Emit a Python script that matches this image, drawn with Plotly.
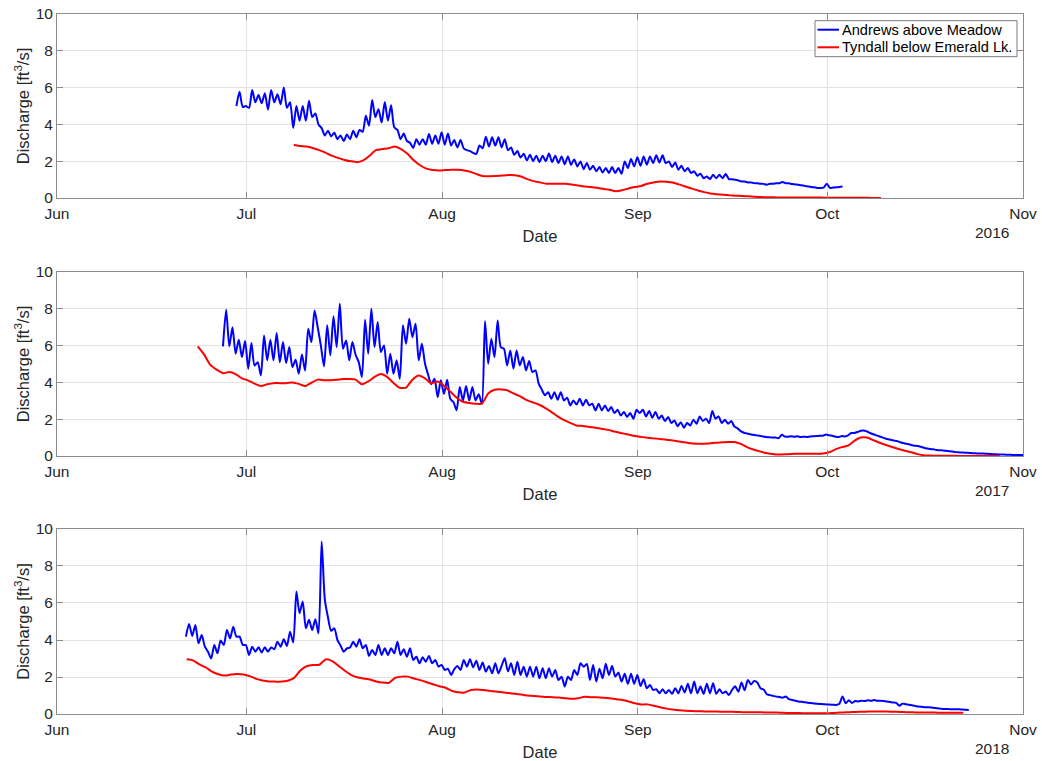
import pandas as pd
import plotly.graph_objects as go

# ---------------------------------------------------------------------------
# Discharge records (ft^3/s).  Andrews gauge: 12-hourly samples, Tyndall: daily.
# ---------------------------------------------------------------------------
YEARS = [2016, 2017, 2018]
MONTH_LABELS = ["Jun", "Jul", "Aug", "Sep", "Oct", "Nov"]
SERIES_NAMES = ["Andrews above Meadow", "Tyndall below Emerald Lk."]

andrews_2016_start = "2016-06-29 10:00"
andrews_2016 = [
    5.0, 5.78, 4.95, 5.0, 4.9, 5.87, 5.2, 5.6, 5.15, 5.7, 4.8, 5.87, 5.2, 5.64, 5.1, 6.0,
    4.9, 5.2, 3.8, 5.0, 4.2, 5.0, 4.2, 5.28, 4.4, 4.6, 4.0, 3.8, 3.4, 3.66, 3.35, 3.55,
    3.2, 3.4, 3.1, 3.45, 3.2, 3.66, 3.3, 3.7, 3.6, 4.47, 3.93, 5.33, 4.4, 4.83, 4.1, 5.22,
    4.2, 5.04, 3.84, 3.7, 3.2, 3.5, 3.1, 3.0, 2.72, 3.2, 2.9, 3.2, 2.9, 3.48, 2.95, 3.4,
    2.95, 3.57, 2.9, 3.5, 2.85, 3.15, 2.75, 3.15, 2.7, 2.6, 2.55, 2.45, 2.4, 2.85, 2.7, 3.33,
    2.8, 3.3, 2.85, 3.3, 2.75, 3.2, 2.6, 2.75, 2.35, 2.55, 2.2, 2.4, 2.05, 2.35, 2.0, 2.3,
    1.96, 2.3, 2.0, 2.42, 1.95, 2.3, 1.9, 2.26, 1.84, 2.26, 1.8, 2.1, 1.72, 1.99, 1.57, 1.9,
    1.54, 1.75, 1.45, 1.68, 1.39, 1.63, 1.36, 1.68, 1.36, 1.63, 1.32, 1.99, 1.63, 2.12, 1.72, 2.22,
    1.75, 2.26, 1.81, 2.26, 1.9, 2.32, 1.93, 2.32, 1.9, 1.99, 1.68, 1.93, 1.54, 1.75, 1.45, 1.63,
    1.36, 1.45, 1.21, 1.32, 1.08, 1.17, 1.03, 1.26, 1.08, 1.26, 1.08, 1.3, 1.03, 1.02, 0.99, 0.95,
    0.9, 0.9, 0.85, 0.85, 0.81, 0.8, 0.78, 0.77, 0.72, 0.78, 0.78, 0.8, 0.8, 0.87, 0.8, 0.8,
    0.76, 0.74, 0.72, 0.7, 0.66, 0.63, 0.6, 0.58, 0.55, 0.54, 0.56, 0.78, 0.55, 0.57, 0.58, 0.6,
    0.63,
]

tyndall_2016_start = "2016-07-08 12:00"
tyndall_2016 = [
    2.88, 2.83, 2.8, 2.72, 2.6, 2.47, 2.3, 2.18, 2.07, 2.0, 1.95, 2.05, 2.3, 2.6, 2.66, 2.7,
    2.8, 2.66, 2.4, 2.05, 1.78, 1.6, 1.52, 1.5, 1.52, 1.53, 1.53, 1.5, 1.42, 1.3, 1.19, 1.19,
    1.2, 1.22, 1.25, 1.24, 1.17, 1.03, 0.92, 0.85, 0.78, 0.78, 0.78, 0.77, 0.73, 0.68, 0.63, 0.6,
    0.56, 0.5, 0.45, 0.37, 0.42, 0.52, 0.6, 0.65, 0.78, 0.85, 0.9, 0.88, 0.84, 0.74, 0.63, 0.52,
    0.41, 0.32, 0.25, 0.21, 0.18, 0.15, 0.13, 0.11, 0.09, 0.07, 0.05, 0.04, 0.04, 0.03, 0.03, 0.03,
    0.03, 0.03, 0.03, 0.03, 0.02, 0.02, 0.02, 0.02, 0.02, 0.01, 0.01, 0.01, 0.0, 0.0,
]

andrews_2017_start = "2017-06-27 07:00"
andrews_2017 = [
    5.96, 7.95, 5.96, 7.0, 5.56, 6.32, 5.38, 6.25, 4.74, 6.14, 4.92, 5.1, 4.38, 6.55, 5.2, 6.32,
    5.2, 6.68, 5.1, 6.19, 5.05, 5.92, 4.83, 5.23, 4.47, 5.52, 4.65, 6.92, 6.19, 7.91, 7.0, 6.0,
    4.87, 7.1, 5.47, 7.59, 5.92, 8.28, 5.83, 6.28, 5.2, 6.19, 5.5, 5.1, 4.29, 7.41, 5.56, 8.0,
    5.92, 7.28, 5.65, 6.01, 4.47, 5.56, 4.47, 5.2, 4.2, 7.1, 6.1, 7.46, 6.46, 7.19, 5.2, 6.1,
    5.01, 4.4, 3.9, 4.2, 3.2, 4.11, 3.38, 4.14, 3.11, 2.93, 2.48, 3.75, 3.02, 3.8, 3.02, 3.75,
    3.02, 3.35, 2.84, 7.33, 5.01, 6.37, 5.38, 7.37, 5.92, 5.83, 4.92, 5.74, 4.74, 5.74, 4.92, 5.38,
    4.65, 5.16, 4.56, 4.65, 3.93, 3.6, 3.3, 3.47, 3.11, 3.47, 3.06, 3.47, 3.02, 3.17, 2.75, 3.02,
    2.8, 3.11, 2.75, 3.06, 2.75, 2.84, 2.48, 2.84, 2.48, 2.75, 2.44, 2.66, 2.33, 2.51, 2.2, 2.39,
    2.12, 2.33, 2.03, 2.51, 2.33, 2.51, 2.15, 2.44, 2.08, 2.39, 2.03, 2.2, 1.9, 2.12, 1.79, 1.93,
    1.61, 1.84, 1.54, 1.79, 1.66, 1.97, 1.75, 2.15, 1.9, 2.03, 1.79, 2.44, 2.03, 2.15, 1.79, 1.97,
    1.75, 1.9, 1.6, 1.5, 1.35, 1.26, 1.22, 1.18, 1.15, 1.12, 1.1, 1.06, 1.03, 1.02, 1.0, 1.0,
    0.96, 1.16, 1.05, 1.05, 1.07, 1.05, 1.07, 1.03, 1.05, 1.03, 1.06, 1.07, 1.08, 1.1, 1.1, 1.17,
    1.12, 1.1, 1.05, 1.03, 1.08, 1.06, 1.12, 1.25, 1.25, 1.3, 1.37, 1.39, 1.33, 1.25, 1.18, 1.12,
    1.06, 1.0, 0.94, 0.9, 0.86, 0.82, 0.78, 0.72, 0.68, 0.65, 0.6, 0.56, 0.54, 0.5, 0.45, 0.41,
    0.38, 0.36, 0.33, 0.31, 0.3, 0.28, 0.26, 0.24, 0.21, 0.2, 0.19, 0.18, 0.17, 0.16, 0.15, 0.14,
    0.14, 0.13, 0.12, 0.11, 0.1, 0.09, 0.08, 0.08, 0.07, 0.07, 0.06, 0.06, 0.05, 0.05, 0.05,
]

tyndall_2017_start = "2017-06-23 07:00"
tyndall_2017 = [
    5.96, 5.52, 4.95, 4.69, 4.5, 4.56, 4.45, 4.22, 4.1, 3.93, 3.8, 3.9, 3.96, 3.96, 3.96, 4.0,
    3.92, 3.8, 3.98, 4.15, 4.12, 4.12, 4.14, 4.18, 4.18, 4.15, 3.9, 4.05, 4.3, 4.45, 4.3, 3.97,
    3.7, 3.72, 4.15, 4.38, 4.22, 3.95, 4.05, 3.82, 3.5, 3.17, 2.95, 2.88, 2.84, 2.84, 3.4, 3.6,
    3.62, 3.57, 3.4, 3.25, 3.05, 2.92, 2.8, 2.62, 2.4, 2.15, 1.95, 1.8, 1.66, 1.63, 1.58, 1.54,
    1.48, 1.42, 1.33, 1.25, 1.18, 1.1, 1.05, 1.0, 0.96, 0.93, 0.89, 0.85, 0.8, 0.75, 0.69, 0.67,
    0.67, 0.68, 0.72, 0.74, 0.76, 0.76, 0.66, 0.48, 0.35, 0.25, 0.16, 0.11, 0.08, 0.09, 0.11, 0.12,
    0.12, 0.12, 0.12, 0.13, 0.2, 0.36, 0.48, 0.56, 0.82, 1.0, 1.0, 0.86, 0.72, 0.6, 0.49, 0.38,
    0.28, 0.2, 0.1, 0.04, 0.02, 0.01, 0.01, 0.01, 0.01, 0.0, 0.0, 0.0, 0.0, 0.0, 0.0, 0.0,
]

andrews_2018_start = "2018-06-21 10:00"
andrews_2018 = [
    4.18, 4.87, 4.22, 4.81, 3.82, 4.27, 3.64, 3.37, 3.01, 3.73, 3.28, 3.97, 3.73, 4.54, 4.09, 4.72,
    4.18, 4.18, 3.73, 3.73, 3.19, 3.64, 3.37, 3.61, 3.32, 3.61, 3.37, 3.6, 3.5, 3.91, 3.64, 4.04,
    3.68, 4.45, 3.86, 6.62, 5.45, 6.08, 4.63, 5.09, 4.54, 5.12, 4.36, 9.32, 6.2, 5.23, 4.5, 4.63,
    4.0, 3.7, 3.37, 3.55, 3.6, 3.9, 3.64, 4.04, 3.55, 3.73, 3.14, 3.46, 3.19, 3.73, 3.19, 3.55,
    3.19, 3.55, 3.28, 3.91, 3.19, 3.5, 3.1, 3.55, 2.92, 3.1, 2.74, 3.07, 2.83, 3.14, 2.74, 2.92,
    2.56, 2.65, 2.38, 2.45, 2.11, 2.42, 2.6, 2.38, 2.92, 2.56, 2.96, 2.52, 2.88, 2.38, 2.78, 2.29,
    2.6, 2.2, 2.74, 2.2, 2.6, 3.01, 2.3, 2.74, 2.11, 2.83, 2.11, 2.56, 2.02, 2.56, 2.02, 2.56,
    1.93, 2.47, 1.93, 2.47, 2.02, 2.38, 1.84, 2.02, 1.48, 2.02, 1.84, 2.38, 2.11, 2.74, 2.56, 2.7,
    1.84, 2.65, 1.75, 2.45, 1.93, 2.71, 2.11, 2.6, 2.02, 2.24, 1.75, 2.17, 1.63, 2.17, 1.63, 2.11,
    1.52, 1.88, 1.39, 1.57, 1.3, 1.34, 1.12, 1.34, 1.12, 1.3, 1.09, 1.39, 1.12, 1.52, 1.16, 1.63,
    1.12, 1.75, 1.12, 1.48, 1.09, 1.63, 1.12, 1.66, 1.09, 1.34, 1.12, 1.21, 1.03, 1.3, 1.5, 1.2,
    1.7, 1.28, 1.84, 1.6, 1.78, 1.7, 1.39, 1.32, 1.07, 1.02, 0.98, 0.94, 0.92, 0.88, 0.95, 0.8,
    0.76, 0.72, 0.68, 0.66, 0.63, 0.61, 0.59, 0.57, 0.55, 0.54, 0.53, 0.52, 0.51, 0.5, 0.49, 0.55,
    0.95, 0.58, 0.74, 0.6, 0.7, 0.68, 0.72, 0.7, 0.74, 0.72, 0.75, 0.72, 0.72, 0.7, 0.67, 0.65,
    0.62, 0.6, 0.45, 0.56, 0.53, 0.5, 0.47, 0.44, 0.4, 0.39, 0.37, 0.36, 0.35, 0.33, 0.31, 0.29,
    0.27, 0.27, 0.26, 0.26, 0.26, 0.25, 0.24, 0.23, 0.22,
]

tyndall_2018_start = "2018-06-21 13:00"
tyndall_2018 = [
    2.96, 2.9, 2.68, 2.52, 2.29, 2.15, 2.08, 2.13, 2.16, 2.14, 2.05, 1.9, 1.81, 1.76, 1.75, 1.75,
    1.8, 1.95, 2.35, 2.58, 2.65, 2.66, 2.95, 2.87, 2.62, 2.35, 2.12, 1.99, 1.92, 1.86, 1.76, 1.7,
    1.68, 1.95, 2.02, 2.02, 1.92, 1.83, 1.72, 1.61, 1.5, 1.42, 1.25, 1.17, 1.16, 1.3, 1.33, 1.3,
    1.25, 1.21, 1.17, 1.13, 1.09, 1.05, 1.0, 0.97, 0.95, 0.92, 0.91, 0.89, 0.85, 0.82, 0.85, 0.93,
    0.91, 0.9, 0.88, 0.85, 0.8, 0.76, 0.68, 0.58, 0.52, 0.52, 0.45, 0.36, 0.29, 0.24, 0.2, 0.17,
    0.16, 0.15, 0.14, 0.14, 0.13, 0.12, 0.12, 0.11, 0.1, 0.1, 0.09, 0.09, 0.08, 0.08, 0.07, 0.06,
    0.05, 0.05, 0.04, 0.04, 0.04, 0.04, 0.05, 0.07, 0.08, 0.1, 0.11, 0.12, 0.13, 0.13, 0.13, 0.13,
    0.12, 0.11, 0.1, 0.09, 0.08, 0.08, 0.08, 0.07, 0.07, 0.07, 0.07, 0.07,
]

andrews = {
    2016: (andrews_2016_start, andrews_2016),
    2017: (andrews_2017_start, andrews_2017),
    2018: (andrews_2018_start, andrews_2018),
}
tyndall = {
    2016: (tyndall_2016_start, tyndall_2016),
    2017: (tyndall_2017_start, tyndall_2017),
    2018: (tyndall_2018_start, tyndall_2018),
}

BLUE = "#0000ff"
RED = "#ff0000"
FONT = "Liberation Sans, Arial, Helvetica, sans-serif"
TEXT = "#262626"
AXIS = "#8c8c8c"
GRID = "#e3e3e3"
TICK_SIZE = 15.5
LABEL_SIZE = 16.5

W, H = 1042, 761
ML, MR, MT, MB = 57, 19, 14, 47
PLOT_W, PLOT_H = W - ML - MR, H - MT - MB

# panel geometry (paper fractions), top to bottom
DOMAINS = [[0.7371, 1.0], [0.3686, 0.6314], [0.0, 0.2643]]


def px_to_paper(px, py):
    """Convert a page pixel position into paper coordinates."""
    return (px - ML) / PLOT_W, (H - MB - py) / PLOT_H


fig = go.Figure()
layout = dict(
    width=W, height=H,
    margin=dict(l=ML, r=MR, t=MT, b=MB, autoexpand=False),
    paper_bgcolor="white", plot_bgcolor="white",
    font=dict(family=FONT, size=TICK_SIZE, color=TEXT),
    showlegend=False,
)

annotations = []
shapes = []
for i, year in enumerate(YEARS):
    ax = "" if i == 0 else str(i + 1)
    xname, yname = "xaxis" + ax, "yaxis" + ax
    xref, yref = "x" + ax, "y" + ax

    s, vals = andrews[year]
    t = pd.date_range(s, periods=len(vals), freq="12h")
    fig.add_trace(go.Scatter(
        x=t, y=vals, mode="lines", name=SERIES_NAMES[0],
        line=dict(color=BLUE, width=2, shape="spline", smoothing=0.7),
        xaxis=xref, yaxis=yref,
    ))
    s, vals = tyndall[year]
    t = pd.date_range(s, periods=len(vals), freq="D")
    fig.add_trace(go.Scatter(
        x=t, y=vals, mode="lines", name=SERIES_NAMES[1],
        line=dict(color=RED, width=2, shape="spline", smoothing=0.5),
        xaxis=xref, yaxis=yref,
    ))

    month_ticks = [f"{year}-{m:02d}-01" for m in range(6, 12)]
    layout[xname] = dict(
        domain=[0, 1], anchor=yref, type="date", automargin=False,
        range=[f"{year}-06-01", f"{year}-11-01"],
        tickvals=month_ticks, ticktext=MONTH_LABELS,
        ticks="inside", ticklen=6, tickcolor=AXIS, tickwidth=1,
        showline=True, linecolor=AXIS, linewidth=1, mirror="ticks",
        showgrid=True, gridcolor=GRID, gridwidth=1, zeroline=False,
        ticklabelstandoff=1,
        tickfont=dict(family=FONT, size=TICK_SIZE, color=TEXT),
        title=dict(text="Date", font=dict(family=FONT, size=LABEL_SIZE, color=TEXT), standoff=9),
    )
    layout[yname] = dict(
        domain=DOMAINS[i], anchor=xref, automargin=False,
        range=[0, 10], tickvals=[0, 2, 4, 6, 8, 10],
        ticks="inside", ticklen=6, tickcolor=AXIS, tickwidth=1,
        showline=True, linecolor=AXIS, linewidth=1, mirror="ticks",
        showgrid=True, gridcolor=GRID, gridwidth=1, zeroline=False,
        tickfont=dict(family=FONT, size=TICK_SIZE, color=TEXT),
        title=dict(text="Discharge [ft<sup>3</sup>/s]",
                   font=dict(family=FONT, size=LABEL_SIZE, color=TEXT), standoff=1),
    )
    annotations.append(dict(
        text=str(year), xref=xref + " domain", yref=yref + " domain",
        x=0.9676, y=-0.1886, xanchor="center", yanchor="middle",
        showarrow=False, font=dict(family=FONT, size=TICK_SIZE, color=TEXT),
    ))

# legend box in the upper-right corner of the top panel
bx0, by0 = px_to_paper(815, 20.7)
bx1, by1 = px_to_paper(1017, 56.7)
shapes.append(dict(type="rect", xref="paper", yref="paper", x0=bx0, y0=by1, x1=bx1, y1=by0,
                   fillcolor="white", line=dict(color="#7a7a7a", width=1), layer="above"))
for name, color, row_y in [(SERIES_NAMES[0], BLUE, 29.7), (SERIES_NAMES[1], RED, 47.3)]:
    lx0, ly = px_to_paper(817.5, row_y)
    lx1, _ = px_to_paper(839, row_y)
    shapes.append(dict(type="line", xref="paper", yref="paper", x0=lx0, y0=ly, x1=lx1, y1=ly,
                       line=dict(color=color, width=2), layer="above"))
    tx, _ = px_to_paper(840, row_y)
    annotations.append(dict(
        text=name, xref="paper", yref="paper", x=tx, y=ly, xanchor="left", yanchor="middle",
        showarrow=False, font=dict(family=FONT, size=14.6, color="#000000"),
    ))

layout["annotations"] = annotations
layout["shapes"] = shapes
fig.update_layout(**layout)
fig.write_html("out.html")
